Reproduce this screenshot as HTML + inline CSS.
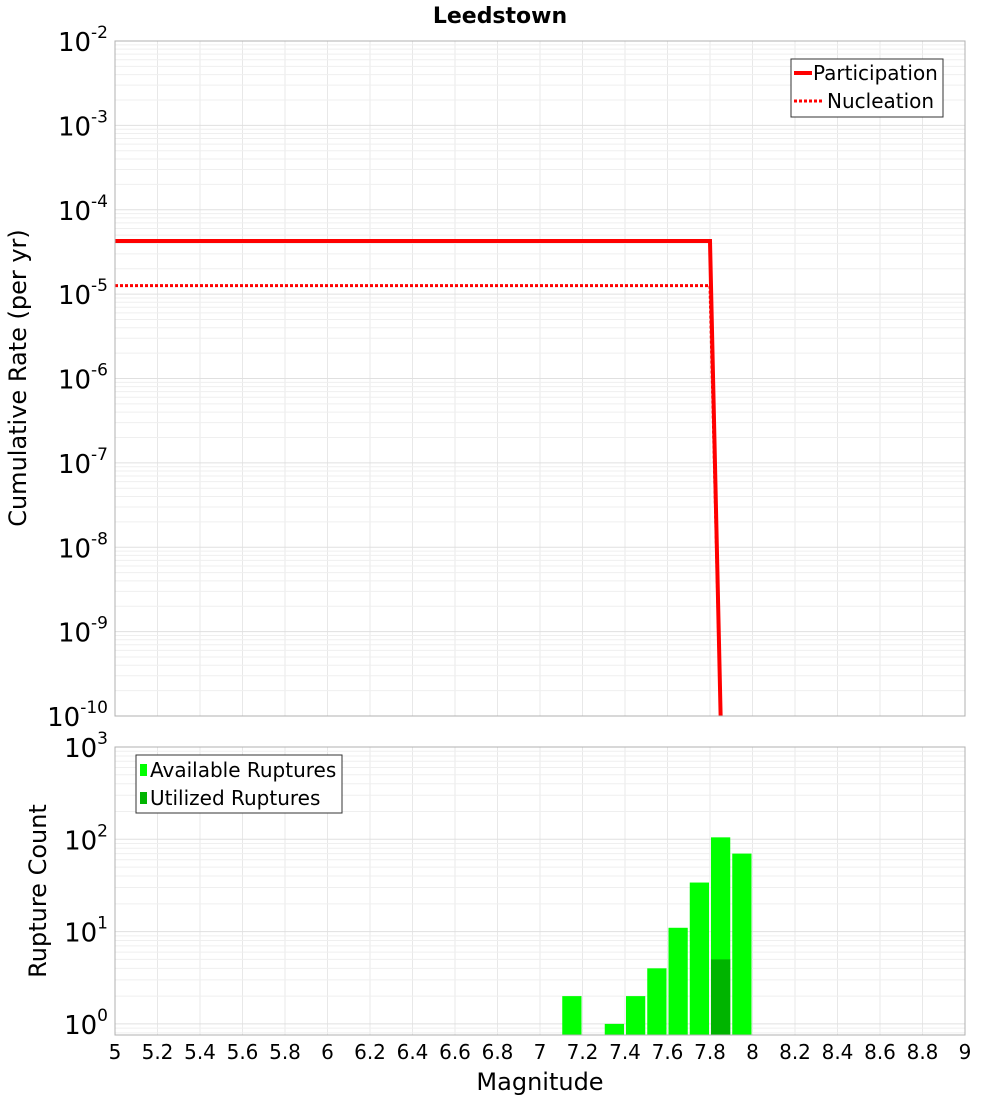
<!DOCTYPE html>
<html><head><meta charset="utf-8"><style>
body{margin:0;background:#fff;font-family:"DejaVu Sans","Liberation Sans",sans-serif}
</style></head><body>
<svg id="c" width="1000" height="1100" xmlns="http://www.w3.org/2000/svg"></svg>
<script>
const xTicks=[5,5.2,5.4,5.6,5.8,6,6.2,6.4,6.6,6.8,7,7.2,7.4,7.6,7.8,8,8.2,8.4,8.6,8.8,9];
const partMags=[5,7.8,7.85];
const partRates=[4.26e-5,4.26e-5,1e-10];
const nuclMags=[5,7.8,7.85];
const nuclRates=[1.26e-5,1.26e-5,1e-10];
const binMags=[7.15,7.35,7.45,7.55,7.65,7.75,7.85,7.95];
const availCounts=[2,1,2,4,11,34,105,70];
const usedMags=[7.85];
const usedCounts=[5];
const topExps=[-2,-3,-4,-5,-6,-7,-8,-9,-10];
const botExps=[3,2,1,0];

const S=document.getElementById('c'),NS='http://www.w3.org/2000/svg';
function el(t,a,p){const e=document.createElementNS(NS,t);for(const k in a)e.setAttribute(k,a[k]);(p||S).appendChild(e);return e;}
const X0=115,X1=965;
const x=m=>X0+(m-5)/4*(X1-X0);
const T0=41,T1=716;
const yT=v=>T0+(-2-Math.log10(v))*(T1-T0)/8;
const B0=747,B1=1035;
const yB=v=>B0+(3-Math.log10(v))*92.3;

function grid(y0,y1,yf,lo,hi,minLog){
  for(const t of xTicks){const l=el('line',{x1:x(t),x2:x(t),y1:y0,y2:y1,stroke:'#e8e8e8'});}
  for(let e=lo;e<hi;e++)for(let k=1;k<10;k++){const v=k*Math.pow(10,e);if(Math.log10(v)<minLog)continue;const yy=yf(v);if(yy<y0||yy>y1)continue;const l=el('line',{x1:X0,x2:X1,y1:yy,y2:yy,stroke:k==1?'#e0e0e0':'#efefef'});}
}
grid(T0,T1,yT,-10,-2,-10);
grid(B0,B1,yB,-1,3,-0.2);

function line(ms,vs,dash,name){let d='';ms.forEach((m,i)=>{d+=(i?'L':'M')+x(m)+','+yT(vs[i]);});const p=el('path',{d:d,fill:'none',stroke:'#f00','stroke-width':dash?3:4});if(dash)p.setAttribute('stroke-dasharray','3,2');}
line(nuclMags,nuclRates,true,'nucleation-line');
line(partMags,partRates,false,'participation-line');

const bw=(X1-X0)/40;
availCounts.forEach((c,i)=>{const r=el('rect',{x:x(binMags[i])-bw/2+1,y:yB(c),width:bw-2,height:B1-yB(c),fill:'#00ff00'});});
usedCounts.forEach((c,i)=>{const r=el('rect',{x:x(usedMags[i])-bw/2+1,y:yB(c),width:bw-2,height:B1-yB(c),fill:'#00b400'});});

[[T0,T1,'top-plot-frame'],[B0,B1,'bottom-plot-frame']].forEach(f=>{const r=el('rect',{x:X0,y:f[0],width:X1-X0,height:f[1]-f[0],fill:'none',stroke:'#b0b0b0'});});

function expLabel(e,yy,name){const t=el('text',{x:108,y:yy+10,'text-anchor':'end','font-size':26,fill:'#000'});t.textContent='10';const s=el('tspan',{dy:-13,'font-size':17},t);s.textContent=String(e);}
topExps.forEach(e=>expLabel(e,yT(Math.pow(10,e)),'top-y-tick'));
botExps.forEach(e=>expLabel(e,yB(Math.pow(10,e)),'bottom-y-tick'));
xTicks.forEach(t=>{const l=el('text',{x:x(t),y:1059,'text-anchor':'middle','font-size':20});l.textContent=String(t);});

function txt(s,a,name){const t=el('text',a);t.textContent=s;return t;}
txt('Leedstown',{x:500,y:23,'text-anchor':'middle','font-size':22,'font-weight':'bold'},'chart-title');
txt('Magnitude',{x:540,y:1090,'text-anchor':'middle','font-size':24},'x-axis-title');
txt('Cumulative Rate (per yr)',{x:0,y:0,'text-anchor':'middle','font-size':24,transform:'translate(26,378) rotate(-90)'},'top-y-axis-title');
txt('Rupture Count',{x:0,y:0,'text-anchor':'middle','font-size':24,transform:'translate(46,891) rotate(-90)'},'bottom-y-axis-title');

const lg=el('g',{});
el('rect',{x:791,y:59,width:152,height:58,fill:'#fff',stroke:'#333'},lg);
el('line',{x1:794,x2:812,y1:73,y2:73,stroke:'#f00','stroke-width':4},lg);
el('line',{x1:794,x2:822,y1:101,y2:101,stroke:'#f00','stroke-width':3,'stroke-dasharray':'3,2'},lg);
lg.appendChild(txt('Participation',{x:813,y:80,'font-size':20},'legend-participation'));
lg.appendChild(txt('Nucleation',{x:827,y:108,'font-size':20},'legend-nucleation'));
const bg=el('g',{});
el('rect',{x:136,y:755,width:206,height:58,fill:'#fff',stroke:'#333'},bg);
el('rect',{x:140,y:764,width:7,height:12,fill:'#00ff00'},bg);
el('rect',{x:140,y:792,width:7,height:12,fill:'#00b400'},bg);
bg.appendChild(txt('Available Ruptures',{x:150,y:777,'font-size':20},'legend-available'));
bg.appendChild(txt('Utilized Ruptures',{x:150,y:805,'font-size':20},'legend-utilized'));
</script>
</body></html>
